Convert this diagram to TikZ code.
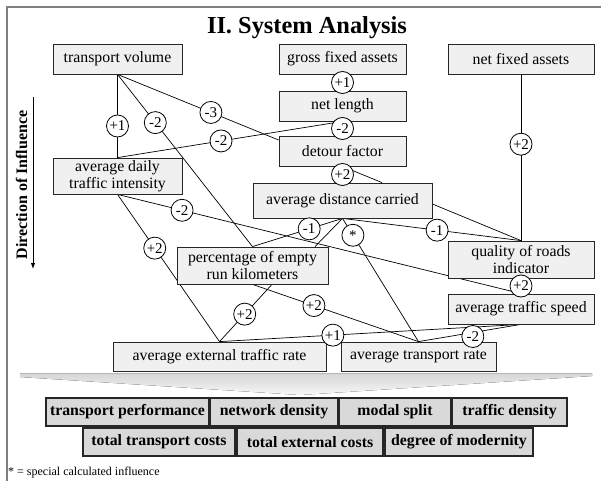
\documentclass[tikz,border=0pt]{standalone}
\usepackage{fontspec}
\setmainfont{Liberation Serif}
\usetikzlibrary{arrows.meta}
\pgfdeclarelayer{bg}
\pgfsetlayers{bg,main}
\begin{document}
\begin{tikzpicture}[x=1pt,y=-1pt,
  box/.style={draw=black!85, fill=black!6, line width=0.8pt, inner sep=0pt, align=center,
    font=\fontsize{15.8}{17.5}\selectfont},
  res/.style={draw=black!85, fill=black!15, line width=1.2pt, inner sep=0pt, minimum height=28pt,
    font=\fontsize{15.8}{18}\selectfont\bfseries},
  wt/.style={circle, draw=black, fill=white, inner sep=0pt, minimum size=22pt, line width=0.8pt,
    font=\fontsize{15}{15}\selectfont},
  conn/.style={draw=black, line width=0.7pt},
]
\useasboundingbox (0,0) rectangle (601,481);
% frame
\draw[line width=2pt, black!50] (7,481) -- (7,6.7) -- (601,6.7);
% title
\node[anchor=base, font=\fontsize{24.4}{26}\selectfont\bfseries] (title) at (307,34) {II. System Analysis};
% direction of influence
\node[rotate=90, font=\fontsize{16}{16}\selectfont\bfseries] (dir) at (21.5,185) {Direction of Influence};
\coordinate (arrS) at (33,97);
\coordinate (arrE) at (33,269);
\draw[line width=1pt, -{Latex[length=6pt,width=4.5pt]}] (arrS) -- (arrE);

% boxes
\node[box, minimum width=129pt, minimum height=30pt] (tv) at (117.5,59) {transport volume};
\node[box, minimum width=127pt, minimum height=30pt] (gfa) at (342.5,59) {gross fixed assets};
\node[box, minimum width=146pt, minimum height=30pt] (nfa) at (521,59) {net fixed assets};
\node[box, minimum width=127pt, minimum height=30pt] (nl) at (342.5,106) {net length};
\node[box, minimum width=127pt, minimum height=30pt] (df) at (342.5,151) {detour factor};
\node[box, minimum width=129pt, minimum height=36pt] (adti) at (117.5,176) {average daily\\traffic intensity};
\node[box, minimum width=179pt, minimum height=35pt] (adc) at (342.5,200.5) {average distance carried};
\node[box, minimum width=151pt, minimum height=37pt] (perk) at (252.5,265.5) {percentage of empty\\run kilometers};
\node[box, minimum width=146pt, minimum height=37pt] (qri) at (521,259.5) {quality of roads\\indicator};
\node[box, minimum width=146pt, minimum height=30pt] (ats) at (521,309) {average traffic speed};
\node[box, minimum width=213pt, minimum height=29pt] (aetr) at (219.5,356.5) {average external traffic rate};
\node[box, minimum width=155pt, minimum height=29pt] (atr) at (418.5,356.5) {average transport rate};

% connectors (behind boxes)
\begin{pgfonlayer}{bg}
\draw[conn] (tv.south) -- coordinate[pos=.62] (l1) (adti.north);
\draw[conn] (tv.south) -- coordinate[pos=.28] (l2) (perk.north);
\draw[conn] (tv.south) -- coordinate[pos=.58] (l3) ([yshift=11pt]df.west);
\draw[conn] (adti.north) -- coordinate[pos=.46] (l4) (nl.south);
\draw[conn] (gfa.south) -- coordinate[pos=.5] (l5) (nl.north);
\draw[conn] (nl.south) -- coordinate[pos=.5] (l6) (df.north);
\draw[conn] (df.south) -- coordinate[pos=.5] (l7) (adc.north);
\draw[conn] (df.south) -- ([xshift=39.5pt]adc.north);
\draw[conn] (nfa.south) -- coordinate[pos=.42] (l8) (qri.north);
\draw[conn] ([yshift=-3.5pt]adc.east) -- (qri.north);
\draw[conn] (adc.south) -- coordinate[pos=.53] (l9) (qri.north);
\draw[conn] (adc.south) -- coordinate[pos=.37] (l10) (perk.north);
\draw[conn] (adc.south) -- ([xshift=62.5pt]perk.north);
\draw[conn] (adc.south) -- coordinate[pos=.137] (l11) (atr.north);
\draw[conn] (adti.south) -- coordinate[pos=.16] (l12) (ats.north);
\draw[conn] (adti.south) -- coordinate[pos=.365] (l13) (aetr.north);
\draw[conn] ([xshift=19.5pt]perk.south) -- coordinate[pos=.52] (l14) (aetr.north);
\draw[conn] (perk.south) -- coordinate[pos=.37] (l15) (atr.north);
\draw[conn] (qri.south) -- coordinate[pos=.5] (l16) (ats.north);
\draw[conn] (aetr.north) -- coordinate[pos=.376] (l17) (ats.south);
\draw[conn] (atr.north) -- coordinate[pos=.53] (l18) (ats.south);
\end{pgfonlayer}

% weights
\node[wt] (w1) at (l1) {+1};
\node[wt] (w2) at (l2) {-2};
\node[wt] (w3) at (l3) {-3};
\node[wt] (w4) at (l4) {-2};
\node[wt] (w5) at (l5) {+1};
\node[wt] (w6) at (l6) {-2};
\node[wt] (w7) at (l7) {+2};
\node[wt] (w8) at (l8) {+2};
\node[wt] (w9) at (l9) {-1};
\node[wt] (w10) at (l10) {-1};
\node[wt] (w11) at (l11) {*};
\node[wt] (w12) at (l12) {-2};
\node[wt] (w13) at (l13) {+2};
\node[wt] (w14) at (l14) {+2};
\node[wt] (w15) at (l15) {+2};
\node[wt] (w16) at (l16) {+2};
\node[wt] (w17) at (l17) {+1};
\node[wt] (w18) at ([yshift=-4pt]l18) {-2};

% big arrow
\fill[top color=black!16, bottom color=black!3] (20,373.5) -- (592,373.5) -- (592,376) -- (300,395) -- (20,377) -- cycle;

% results
\node[res, minimum width=163pt] (tp) at (127.5,412) {transport performance};
\node[res, minimum width=128pt] (nd) at (274,412) {network density};
\node[res, minimum width=112pt] (ms) at (395,412) {modal split};
\node[res, minimum width=115pt] (td) at (509.5,412) {traffic density};
\node[res, minimum width=152pt] (ttc) at (159,442) {total transport costs};
\node[res, minimum width=146pt] (tec) at (310,442) {total external costs};
\node[res, minimum width=148pt] (dom) at (459,442) {degree of modernity};

% footnote
\node[anchor=base west, inner sep=0pt, font=\fontsize{12}{12}\selectfont] (fn) at (8,475) {* = special calculated influence};
\end{tikzpicture}
\end{document}
